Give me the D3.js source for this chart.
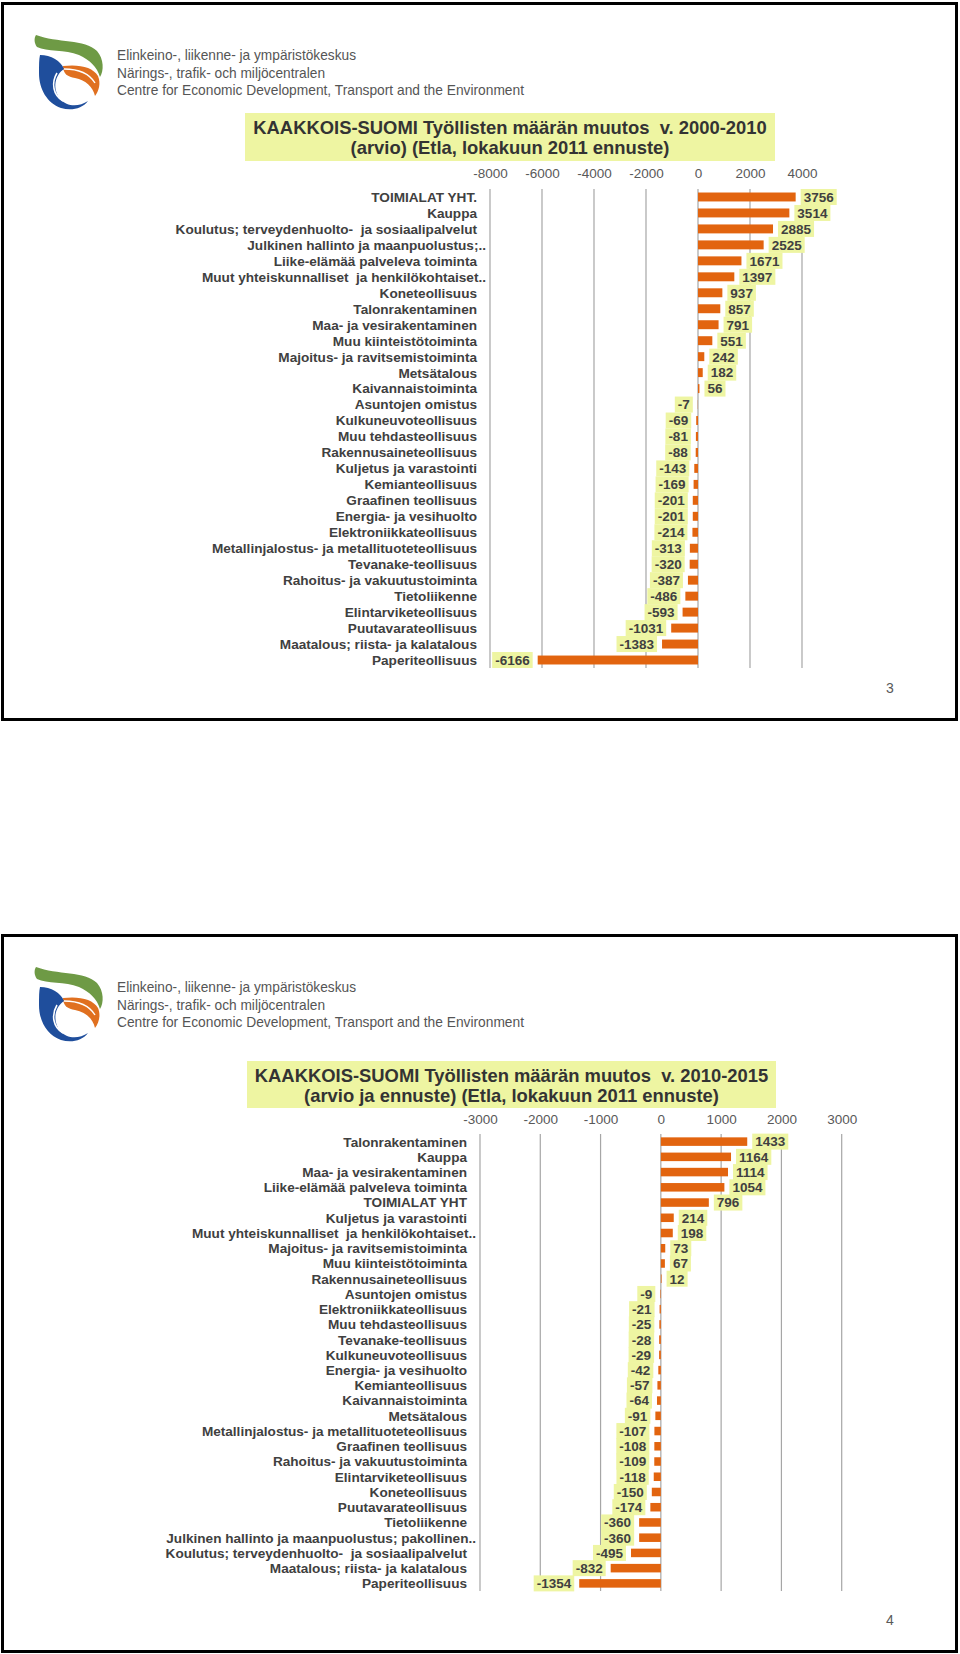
<!DOCTYPE html>
<html><head><meta charset="utf-8">
<script src="https://cdn.jsdelivr.net/npm/d3@7"></script>
<style>body{margin:0;background:#fff}svg{display:block}svg text{white-space:pre}</style>
</head><body>
<script>
// ---------- DATA ----------
const categories1 = ["TOIMIALAT YHT.","Kauppa","Koulutus; terveydenhuolto-  ja sosiaalipalvelut","Julkinen hallinto ja maanpuolustus;..","Liike-elämää palveleva toiminta","Muut yhteiskunnalliset  ja henkilökohtaiset..","Koneteollisuus","Talonrakentaminen","Maa- ja vesirakentaminen","Muu kiinteistötoiminta","Majoitus- ja ravitsemistoiminta","Metsätalous","Kaivannaistoiminta","Asuntojen omistus","Kulkuneuvoteollisuus","Muu tehdasteollisuus","Rakennusaineteollisuus","Kuljetus ja varastointi","Kemianteollisuus","Graafinen teollisuus","Energia- ja vesihuolto","Elektroniikkateollisuus","Metallinjalostus- ja metallituoteteollisuus","Tevanake-teollisuus","Rahoitus- ja vakuutustoiminta","Tietoliikenne","Elintarviketeollisuus","Puutavarateollisuus","Maatalous; riista- ja kalatalous","Paperiteollisuus"];
const values1 = [3756,3514,2885,2525,1671,1397,937,857,791,551,242,182,56,-7,-69,-81,-88,-143,-169,-201,-201,-214,-313,-320,-387,-486,-593,-1031,-1383,-6166];
const ticks1 = [-8000,-6000,-4000,-2000,0,2000,4000];
const title1 = ["KAAKKOIS-SUOMI Työllisten määrän muutos  v. 2000-2010","(arvio) (Etla, lokakuun 2011 ennuste)"];

const categories2 = ["Talonrakentaminen","Kauppa","Maa- ja vesirakentaminen","Liike-elämää palveleva toiminta","TOIMIALAT YHT","Kuljetus ja varastointi","Muut yhteiskunnalliset  ja henkilökohtaiset..","Majoitus- ja ravitsemistoiminta","Muu kiinteistötoiminta","Rakennusaineteollisuus","Asuntojen omistus","Elektroniikkateollisuus","Muu tehdasteollisuus","Tevanake-teollisuus","Kulkuneuvoteollisuus","Energia- ja vesihuolto","Kemianteollisuus","Kaivannaistoiminta","Metsätalous","Metallinjalostus- ja metallituoteteollisuus","Graafinen teollisuus","Rahoitus- ja vakuutustoiminta","Elintarviketeollisuus","Koneteollisuus","Puutavarateollisuus","Tietoliikenne","Julkinen hallinto ja maanpuolustus; pakollinen..","Koulutus; terveydenhuolto-  ja sosiaalipalvelut","Maatalous; riista- ja kalatalous","Paperiteollisuus"];
const values2 = [1433,1164,1114,1054,796,214,198,73,67,12,-9,-21,-25,-28,-29,-42,-57,-64,-91,-107,-108,-109,-118,-150,-174,-360,-360,-495,-832,-1354];
const ticks2 = [-3000,-2000,-1000,0,1000,2000,3000];
const title2 = ["KAAKKOIS-SUOMI Työllisten määrän muutos  v. 2010-2015","(arvio ja ennuste) (Etla, lokakuun 2011 ennuste)"];

const orgLines = ["Elinkeino-, liikenne- ja ympäristökeskus","Närings-, trafik- och miljöcentralen","Centre for Economic Development, Transport and the Environment"];
const pageNumbers = ["3","4"];

// ---------- STYLE ----------
const BAR = "#E2640F", LABELBG = "#EEF5A2", TEXT = "#404040", GRID = "#A6A6A6";
const FONT = "'Liberation Sans', Arial, sans-serif";
const fmt = d3.formatLocale({decimal:".", thousands:"", grouping:[3], currency:["",""], minus:"-"}).format("d");

const svg = d3.select("body").append("svg").attr("width",960).attr("height",1654)
  .style("font-family", FONT);
svg.append("rect").attr("width",960).attr("height",1654).attr("fill","#fff");

function drawLogo(g){
  g.append("path").attr("fill","#6E9A45")
   .attr("d","M9,2 C30,10 58,6 70,18 C77,26 77,38 73,44 C70,34 63,27 52,22 C38,16 20,19 10,14 C7,10 7,5 9,2 Z");
  g.append("path").attr("fill","#E07020")
   .attr("d","M36,33 C52,31 66,34 71,43 C74,50 72,58 68,63 C66,54 59,47 48,45 C41,44 36,41 36,33 Z");
  g.append("path").attr("fill","#1F4E9C")
   .attr("d","M13,22 C24,22 34,28 37,36 C28,42 25,55 33,66 C40,74 52,74 61,68 C55,76 44,78 34,75 C20,70 12,56 12,40 C12,32 12,26 13,22 Z");
  g.append("path").attr("fill","none").attr("stroke","#fff").attr("stroke-width",1.6)
   .attr("d","M30,40 C24,50 26,62 36,68");
  g.append("path").attr("fill","none").attr("stroke","#fff").attr("stroke-width",1.4)
   .attr("d","M37,36 C50,36 62,40 68,50");
}

function drawSlide(cfg){
  const root = svg.append("g");
  const top = cfg.top;
  root.append("rect").attr("x",2.5).attr("y",top+0.5).attr("width",954).attr("height",cfg.frameH)
    .attr("fill","none").attr("stroke","#000").attr("stroke-width",3);
  drawLogo(root.append("g").attr("transform",`translate(27,${top+30})`));
  const ot = root.append("g").attr("fill","#555").style("font-size","15px");
  const orgW = [239,208,407];
  orgLines.forEach((t,i)=>{
    ot.append("text").attr("x",117).attr("y",top+57+i*17.5).text(t)
      .attr("textLength",orgW[i]).attr("lengthAdjust","spacingAndGlyphs").style("font-weight","300");
  });
  root.append("rect").attr("x",cfg.titleBox[0]).attr("y",top+cfg.titleBox[1])
    .attr("width",cfg.titleBox[2]).attr("height",cfg.titleBox[3]).attr("fill",LABELBG);
  cfg.title.forEach((t,i)=>{
    root.append("text").attr("x",cfg.titleBox[0]+cfg.titleBox[2]/2).attr("y",top+cfg.titleBox[1]+21+i*20)
      .attr("text-anchor","middle").attr("fill","#333").style("font-size","18.4px").style("font-weight","bold").text(t);
  });
  const x = d3.scaleLinear().domain(cfg.domain).range(cfg.xRange);
  const y = d3.scaleBand().domain(cfg.categories).range([top+cfg.yRange[0], top+cfg.yRange[1]]).paddingInner(0.44).paddingOuter(0.22);
  const y0 = top+cfg.yRange[0], y1 = top+cfg.yRange[1];
  root.append("g").selectAll("line").data(cfg.ticks).join("line")
    .attr("x1",d=>x(d)).attr("x2",d=>x(d)).attr("y1",y0).attr("y2",y1)
    .attr("stroke",GRID).attr("stroke-width",1.2);
  const ax = root.append("g").attr("transform",`translate(0,${top+cfg.tickY})`)
    .call(d3.axisTop(x).tickValues(cfg.ticks).tickSize(0).tickPadding(0).tickFormat(fmt));
  ax.select(".domain").remove();
  ax.selectAll("text").attr("fill","#595959").style("font-size","13.5px").style("font-family",FONT).attr("dy","0.35em");
  root.append("g").selectAll("text").data(cfg.categories).join("text")
    .attr("x",d=> d.endsWith("..") ? cfg.xRange[0]-4 : cfg.xRange[0]-13)
    .attr("y",d=>y(d)+y.bandwidth()/2).attr("dy","0.36em").attr("text-anchor","end")
    .attr("fill",TEXT).style("font-size","13.6px").style("font-weight","bold").text(d=>d);
  const data = cfg.categories.map((c,i)=>({c, v: cfg.values[i]}));
  root.append("g").selectAll("rect").data(data).join("rect")
    .attr("x",d=>x(Math.min(0,d.v))).attr("width",d=>Math.abs(x(d.v)-x(0)))
    .attr("y",d=>y(d.c)).attr("height",y.bandwidth()).attr("fill",BAR);
  const lg = root.append("g");
  data.forEach(d=>{
    const cy = y(d.c)+y.bandwidth()/2;
    const ex = x(d.v);
    const grp = lg.append("g");
    const bg = grp.append("rect").attr("fill",LABELBG);
    const t = grp.append("text").attr("y",cy).attr("dy","0.36em").attr("fill",TEXT)
      .style("font-size","13.5px").style("font-weight","bold").text(fmt(d.v));
    const w = t.node().getComputedTextLength();
    const tx = d.v >= 0 ? ex + 8 : ex - 8 - w;
    t.attr("x",tx);
    bg.attr("x",tx-3).attr("y",cy-8).attr("width",w+6).attr("height",16);
  });
  root.append("text").attr("x",890).attr("y",top+cfg.pageY).attr("text-anchor","middle")
    .attr("fill","#595959").style("font-size","14px").text(cfg.page);
}

drawSlide({top:3, frameH:716, categories:categories1, values:values1, ticks:ticks1, title:title1,
  domain:[-8000,4000], xRange:[490,802], yRange:[186,665], tickY:170,
  titleBox:[245,110,530,48], page:pageNumbers[0], pageY:690});
drawSlide({top:935, frameH:716, categories:categories2, values:values2, ticks:ticks2, title:title2,
  domain:[-3000,3000], xRange:[480,841.7], yRange:[199,656], tickY:184,
  titleBox:[247,126,529,47], page:pageNumbers[1], pageY:690});
</script>
</body></html>
